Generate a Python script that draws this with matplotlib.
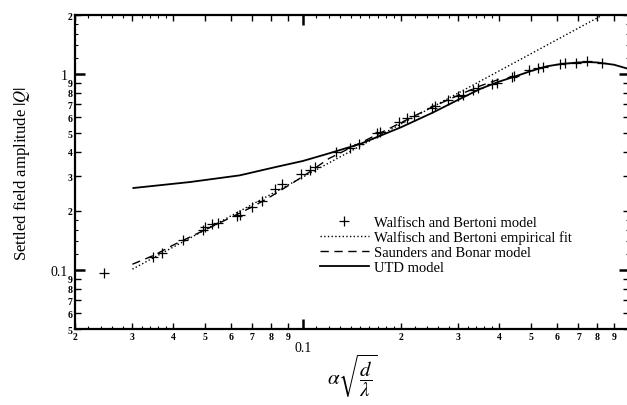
import matplotlib
matplotlib.use('Agg')
import matplotlib.pyplot as plt
from matplotlib.ticker import FixedLocator, FuncFormatter

plt.rcParams['font.family'] = 'Liberation Serif'
plt.rcParams['mathtext.fontset'] = 'stix'

# ---------------------------------------------------------------
# data
# ---------------------------------------------------------------
wb_x = [0.0246, 0.0347, 0.0370, 0.0428, 0.0494, 0.0500, 0.0525, 0.0550,
        0.0626, 0.0641, 0.0699, 0.0747, 0.0820, 0.0860, 0.0990, 0.1050,
        0.1090, 0.1260, 0.1390, 0.1490, 0.1690, 0.1720, 0.1970, 0.2090,
        0.2190, 0.2480, 0.2540, 0.2780, 0.2990, 0.3100, 0.3330, 0.3450,
        0.3790, 0.3930, 0.4370, 0.4450, 0.4940, 0.5270, 0.5460, 0.6140,
        0.6360, 0.6880, 0.7410, 0.8280]
wb_y = [0.097, 0.117, 0.122, 0.143, 0.160, 0.166, 0.171, 0.173,
        0.189, 0.190, 0.209, 0.226, 0.259, 0.275, 0.310, 0.322,
        0.336, 0.398, 0.420, 0.439, 0.498, 0.508, 0.568, 0.595,
        0.612, 0.670, 0.689, 0.735, 0.770, 0.785, 0.824, 0.850,
        0.891, 0.902, 0.968, 0.975, 1.044, 1.078, 1.086, 1.121,
        1.135, 1.143, 1.167, 1.143]

fit_x = [0.030, 0.830]
fit_y = [0.101, 2.000]

sb_x = [0.030, 0.035, 0.040, 0.050, 0.060, 0.070, 0.080, 0.100,
        0.120, 0.150, 0.200, 0.250, 0.300, 0.350, 0.400]
sb_y = [0.107, 0.119, 0.134, 0.160, 0.185, 0.210, 0.238, 0.300,
        0.370, 0.445, 0.565, 0.680, 0.780, 0.870, 0.940]

utd_x = [0.0302, 0.045, 0.064, 0.083, 0.100, 0.118, 0.150, 0.200,
         0.250, 0.300, 0.350, 0.400, 0.450, 0.500, 0.560, 0.620,
         0.700, 0.750, 0.800, 0.900, 0.985]
utd_y = [0.262, 0.281, 0.304, 0.336, 0.360, 0.390, 0.440, 0.535,
         0.635, 0.740, 0.840, 0.915, 0.975, 1.035, 1.095, 1.125,
         1.145, 1.150, 1.145, 1.115, 1.068]

x_major = [0.02, 0.03, 0.04, 0.05, 0.06, 0.07, 0.08, 0.09,
           0.1, 0.2, 0.3, 0.4, 0.5, 0.6, 0.7, 0.8, 0.9]
x_minor = [0.022, 0.024, 0.026, 0.028, 0.032, 0.034, 0.036, 0.038,
           0.11, 0.12, 0.13, 0.14, 0.15, 0.16, 0.17, 0.18, 0.19,
           0.22, 0.24, 0.26, 0.28, 0.32, 0.34, 0.36, 0.38]
y_major = [0.05, 0.06, 0.07, 0.08, 0.09, 0.1, 0.2, 0.3, 0.4, 0.5,
           0.6, 0.7, 0.8, 0.9, 1.0, 2.0]
y_minor = [0.12, 0.14, 0.16, 0.18, 1.2, 1.4, 1.6, 1.8]
decades = [0.1, 1.0]


def is_decade(v):
    return any(abs(v - d) < 1e-9 for d in decades)


def fmt(v, pos):
    # decades get the full number, everything else just its leading digit
    if is_decade(v):
        return '%g' % v
    s = '%.3g' % v
    return s.replace('0.0', '').replace('0.', '').replace('.0', '')


# ---------------------------------------------------------------
# figure
# ---------------------------------------------------------------
fig = plt.figure(figsize=(6.27, 4.06), dpi=100)
ax = fig.add_axes([75 / 627, 76 / 406, 554 / 627, 314 / 406])
ax.set_xscale('log')
ax.set_yscale('log')

ax.plot(wb_x, wb_y, '+', color='black', ms=7, mew=0.9,
        label='Walfisch and Bertoni model')
ax.plot(fit_x, fit_y, ':', color='black', lw=1.0,
        label='Walfisch and Bertoni empirical fit')
ax.plot(sb_x, sb_y, '--', color='black', lw=1.0, dashes=(6, 4),
        label='Saunders and Bonar model')
ax.plot(utd_x, utd_y, '-', color='black', lw=1.3, label='UTD model')

ax.set_xlim(0.02, 1.0)
ax.set_ylim(0.05, 2.0)

ax.xaxis.set_major_locator(FixedLocator(x_major))
ax.xaxis.set_minor_locator(FixedLocator(x_minor))
ax.yaxis.set_major_locator(FixedLocator(y_major))
ax.yaxis.set_minor_locator(FixedLocator(y_minor))
ax.xaxis.set_major_formatter(FuncFormatter(fmt))
ax.yaxis.set_major_formatter(FuncFormatter(fmt))
ax.xaxis.set_minor_formatter(FuncFormatter(lambda v, p: ''))
ax.yaxis.set_minor_formatter(FuncFormatter(lambda v, p: ''))

ax.tick_params(which='both', direction='in', top=True, right=True)
ax.tick_params(which='major', length=4, width=1.0, labelsize=7, pad=2)
ax.tick_params(which='minor', length=2.5, width=0.8)

for axis in (ax.xaxis, ax.yaxis):
    for loc, tick in zip(axis.get_majorticklocs(), axis.get_major_ticks()):
        if is_decade(loc):
            # pad first: it re-applies the tick marker
            tick.set_pad(9 if axis is ax.xaxis else 5)
            tick.tick1line.set_markersize(7.5)
            tick.tick2line.set_markersize(7.5)
            tick.tick1line.set_markeredgewidth(1.8)
            tick.tick2line.set_markeredgewidth(1.8)
            tick.label1.set_fontsize(10)
        else:
            tick.label1.set_fontweight('bold')

for s in ax.spines.values():
    s.set_linewidth(1.6)

ax.set_ylabel('Settled field amplitude $|Q|$', fontsize=12)
ax.yaxis.set_label_coords(-0.078, 0.5)
ax.set_xlabel(r'$\alpha\sqrt{\dfrac{d}{\lambda}}$', fontsize=15)
ax.xaxis.set_label_coords(0.5, -0.07)

ax.legend(loc='upper left', bbox_to_anchor=(0.431, 0.38), frameon=False,
          fontsize=10.5, handlelength=3.4, labelspacing=0.12,
          handletextpad=0.3, borderaxespad=0)

fig.savefig('out.png', dpi=100)
